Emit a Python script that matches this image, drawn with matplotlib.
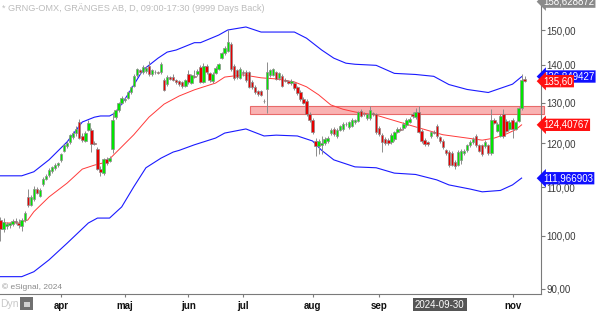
import numpy as np
import matplotlib.pyplot as plt
import matplotlib.transforms as mtransforms
from matplotlib.patches import Rectangle
from matplotlib.ticker import NullLocator

plt.rcParams['font.family'] = ['Liberation Sans', 'DejaVu Sans']

# daily candles, one entry per trading day (Mar 1 .. Nov 7 2024)
opens = [
    103.1, 101.2, 101.9, 102.0, 102.3, 103.0, 102.5, 101.8, 103.2, 108.0,
    106.2, 107.4, 109.6, 108.2, 110.6, 111.8, 112.6, 113.6, 114.2, 114.9,
    116.0, 118.2, 119.3, 120.3, 121.4, 122.4, 125.0, 121.6, 120.6, 123.2,
    123.2, 120.1, 118.7, 114.1, 113.2, 116.3, 115.9, 118.7, 126.3, 128.0,
    129.9, 130.6, 131.2, 132.6, 134.3, 137.2, 138.5, 138.0, 138.3, 139.8,
    137.5, 138.2, 138.0, 138.0, 136.0, 134.8, 136.6, 136.6, 135.9, 135.6,
    135.3, 134.4, 137.4, 135.2, 137.0, 137.4, 139.5, 135.5, 139.8, 137.7,
    135.6, 137.8, 139.0, 142.0, 143.3, 144.0, 145.8, 139.8, 138.5, 136.5,
    138.1, 138.0, 138.0, 135.5, 134.0, 132.9, 132.9, 130.5, 133.5, 137.2,
    137.3, 138.0, 136.4, 137.1, 135.9, 135.6, 135.0, 135.0, 134.0, 132.8,
    130.8, 130.4, 127.0, 125.6, 120.5, 119.2, 119.6, 120.0, 120.5, 122.4,
    123.4, 121.7, 123.2, 123.4, 124.6, 123.8, 124.2, 125.0, 125.4, 127.9,
    127.2, 126.0, 126.0, 127.3, 127.0, 123.6, 122.0, 121.0, 120.8, 120.3,
    121.0, 122.7, 123.4, 123.6, 124.3, 125.2, 127.2, 126.3, 127.7, 123.0,
    120.8, 120.2, 121.7, 122.7, 124.1, 121.4, 120.5, 118.3, 118.0, 117.7,
    115.6, 115.0, 116.0, 117.6, 118.3, 119.5, 120.3, 121.7, 119.5, 119.5,
    119.2, 119.5, 117.6, 125.7, 123.0, 121.8, 127.0, 125.4, 123.5, 125.6,
    123.5, 125.4, 128.5, 136.2,
]
highs = [
    103.8, 103.5, 102.6, 102.8, 103.4, 103.6, 103.3, 103.5, 105.0, 109.6,
    108.4, 110.3, 110.0, 109.8, 112.2, 112.9, 114.2, 114.7, 115.4, 115.7,
    117.7, 119.9, 120.6, 122.2, 122.8, 124.0, 125.8, 122.3, 122.8, 125.6,
    123.6, 120.5, 119.0, 114.6, 116.6, 116.8, 117.0, 127.6, 128.3, 130.2,
    131.6, 131.4, 133.0, 134.4, 137.4, 139.3, 139.0, 139.9, 139.6, 141.1,
    139.0, 138.7, 138.4, 140.7, 136.4, 137.2, 137.0, 137.6, 136.3, 136.0,
    135.7, 136.2, 138.6, 137.6, 138.6, 138.8, 140.0, 140.6, 140.3, 138.1,
    138.0, 139.6, 140.6, 143.7, 145.4, 150.0, 146.4, 140.3, 139.0, 139.4,
    138.6, 138.5, 138.4, 136.0, 134.5, 133.3, 133.3, 130.8, 140.8, 139.0,
    139.2, 138.4, 138.2, 137.6, 136.4, 136.0, 136.1, 135.4, 134.4, 133.2,
    131.3, 130.8, 127.5, 126.0, 121.3, 121.0, 121.6, 121.5, 121.6, 123.6,
    123.8, 123.6, 124.4, 125.0, 125.0, 125.4, 126.0, 125.9, 127.9, 128.3,
    127.6, 127.4, 129.0, 127.7, 127.4, 124.0, 122.4, 121.4, 121.2, 122.4,
    123.0, 123.8, 123.8, 125.0, 126.0, 126.3, 127.6, 128.6, 129.0, 123.4,
    121.2, 120.6, 123.0, 123.1, 124.5, 121.8, 120.9, 118.7, 118.4, 118.1,
    116.0, 118.4, 118.6, 118.6, 119.9, 120.7, 121.4, 122.1, 119.9, 119.9,
    120.7, 119.9, 128.3, 126.1, 125.0, 127.2, 128.3, 125.8, 125.6, 126.0,
    125.4, 128.9, 137.5, 137.0,
]
lows = [
    99.0, 100.6, 101.3, 101.4, 101.8, 102.2, 101.5, 100.8, 102.8, 105.8,
    105.9, 107.0, 108.5, 107.8, 110.3, 111.5, 112.3, 113.2, 113.9, 114.5,
    115.6, 117.9, 118.9, 119.9, 121.0, 121.8, 120.9, 120.3, 120.2, 122.8,
    117.8, 119.6, 113.9, 112.4, 112.7, 115.0, 115.5, 117.6, 125.9, 127.6,
    129.5, 130.2, 130.8, 132.2, 134.0, 136.8, 137.6, 137.6, 137.9, 137.1,
    137.1, 137.6, 137.4, 137.6, 133.0, 134.4, 136.0, 135.7, 134.9, 134.4,
    133.8, 134.0, 134.9, 134.8, 136.4, 137.0, 135.0, 135.1, 137.6, 135.4,
    135.2, 137.4, 138.6, 141.6, 142.9, 143.6, 138.4, 136.0, 136.3, 136.1,
    137.0, 135.5, 133.7, 133.5, 132.3, 131.8, 131.6, 130.0, 127.4, 136.8,
    136.9, 135.9, 136.0, 134.0, 135.3, 134.8, 134.6, 133.3, 132.0, 130.4,
    129.6, 126.6, 125.1, 122.2, 117.1, 117.5, 117.4, 119.6, 120.1, 122.0,
    121.8, 121.3, 122.8, 123.0, 124.0, 123.4, 123.8, 124.6, 125.0, 126.3,
    126.6, 125.6, 125.6, 126.7, 122.2, 121.7, 118.0, 119.6, 119.6, 119.9,
    120.6, 122.3, 122.8, 123.2, 123.9, 124.8, 126.1, 125.9, 122.3, 120.1,
    119.3, 119.4, 121.3, 122.1, 121.3, 120.1, 118.6, 117.3, 114.5, 114.6,
    114.1, 114.6, 115.2, 117.2, 117.9, 119.1, 119.9, 119.1, 117.8, 117.0,
    118.8, 117.2, 117.2, 124.5, 122.6, 121.4, 121.3, 122.6, 123.1, 121.2,
    123.1, 125.0, 128.1, 135.3,
]
closes = [
    101.2, 102.8, 102.3, 102.4, 103.0, 102.6, 102.0, 103.2, 104.6, 106.1,
    108.0, 109.6, 108.8, 109.4, 111.8, 112.5, 113.8, 114.4, 115.0, 115.4,
    117.4, 119.6, 120.1, 121.9, 122.4, 123.4, 121.3, 120.8, 122.4, 124.9,
    119.7, 119.9, 114.1, 113.4, 116.3, 115.3, 116.6, 125.6, 128.0, 129.9,
    131.2, 130.8, 132.6, 134.0, 137.0, 138.9, 138.1, 139.5, 139.2, 137.5,
    138.6, 138.0, 137.8, 140.2, 133.3, 136.8, 136.3, 136.0, 135.4, 134.8,
    134.2, 135.8, 135.3, 137.2, 136.8, 138.4, 135.5, 139.6, 138.0, 135.9,
    137.6, 139.2, 140.2, 143.3, 144.7, 146.4, 138.8, 136.5, 136.8, 139.0,
    137.9, 136.0, 134.1, 134.0, 132.8, 132.3, 132.0, 130.3, 138.0, 138.5,
    138.8, 136.3, 137.8, 134.4, 135.7, 135.2, 135.7, 133.7, 132.4, 130.8,
    130.0, 127.0, 125.5, 122.6, 119.2, 120.5, 120.0, 121.0, 121.2, 123.2,
    122.2, 123.2, 124.0, 124.6, 124.5, 125.0, 125.6, 125.5, 127.5, 126.7,
    127.0, 127.0, 128.2, 127.1, 122.6, 122.1, 120.3, 120.0, 120.0, 122.0,
    122.7, 123.4, 123.2, 124.6, 125.6, 125.9, 126.5, 127.5, 122.7, 120.5,
    119.7, 119.8, 122.7, 122.5, 121.7, 120.5, 119.0, 117.7, 115.0, 115.0,
    114.7, 118.0, 118.2, 118.2, 119.5, 120.3, 121.0, 119.5, 118.2, 117.4,
    120.3, 117.6, 125.7, 124.9, 124.6, 126.7, 121.7, 123.0, 125.2, 123.5,
    125.0, 128.5, 136.0, 135.6,
]

upper_idx = [0, 7, 11, 16, 22, 27, 31, 33, 36, 38, 42, 44, 47, 52, 55, 58, 64, 66, 72,
             75, 81, 86, 91, 97, 101, 106, 110, 114, 117, 124, 130, 137, 143, 148, 154,
             161, 165, 169, 172]
upper_val = [112.5, 112.5, 113.4, 116.1, 120.3, 125.1, 126.3, 126.6, 126.6, 127.4, 132.0,
             134.6, 138.6, 141.9, 143.6, 144.2, 146.3, 146.3, 148.5, 150.0, 150.9, 149.4,
             149.4, 149.4, 147.6, 144.2, 141.9, 140.5, 140.2, 139.9, 137.7, 137.4, 136.9,
             134.7, 133.4, 132.6, 133.7, 134.8, 136.8]
mid_idx = [0, 6, 9, 11, 16, 22, 27, 31, 35, 38, 44, 49, 54, 59, 64, 71, 74, 80, 86, 91,
           97, 101, 105, 109, 113, 117, 124, 137, 146, 154, 159, 163, 167, 170, 172]
mid_val = [102.5, 102.5, 103.1, 104.8, 107.9, 110.9, 114.0, 114.9, 115.6, 117.7, 122.0,
           126.3, 129.6, 131.7, 133.3, 135.1, 136.7, 137.3, 136.5, 136.2, 135.4, 134.1,
           132.0, 129.4, 128.3, 127.6, 126.8, 123.9, 122.0, 121.2, 120.7, 121.2, 122.2,
           123.2, 124.4]
lower_idx = [0, 7, 11, 16, 22, 29, 32, 36, 40, 44, 48, 53, 57, 59, 64, 71, 74, 81, 87, 91,
             98, 103, 106, 110, 117, 124, 130, 137, 144, 148, 155, 159, 165, 169, 172]
lower_val = [92.2, 92.2, 93.1, 95.3, 98.5, 102.5, 103.5, 103.5, 105.8, 110.1, 114.3, 116.5,
             117.9, 118.3, 119.6, 121.2, 122.4, 123.4, 121.7, 121.9, 121.7, 120.5, 118.3,
             116.1, 114.5, 114.3, 113.1, 112.8, 111.6, 110.5, 109.6, 109.0, 109.3, 110.5,
             112.0]

# resistance zone
zone_start = 82.3
zone_low, zone_high = 127.1, 129.0

month_pos = [20, 41, 62, 80, 103, 125, 169]
month_names = ['apr', 'maj', 'jun', 'jul', 'aug', 'sep', 'nov']
cursor_pos, cursor_text = 145, '2024-09-30'

yticks = [90, 100, 110, 120, 130, 140, 150]
tags = [(158.628872, '158,628872', '#8a8a8a'),
        (136.849427, '136,849427', '#1010ff'),
        (135.60, '135,60', '#ff1010'),
        (124.40767, '124,40767', '#ff1010'),
        (111.966903, '111,966903', '#1010ff')]

fig = plt.figure(figsize=(6, 3.11), dpi=100)
ax = fig.add_axes([0, 17 / 311, 541 / 600, 294 / 311])
ax.set_yscale('log')
ax.set_ylim(89.1, 159.15)
ax.set_xlim(-0.165, 178.4)

ax.add_patch(Rectangle((zone_start, zone_low), 178.4 - zone_start + 1, zone_high - zone_low,
                       fc='#f9b2b2', ec='#e86a6a', lw=0.8, zorder=1, clip_on=False))

ax.plot(upper_idx, upper_val, color='#1a1aff', lw=0.8, zorder=2)
ax.plot(lower_idx, lower_val, color='#1a1aff', lw=0.8, zorder=2)
ax.plot(mid_idx, mid_val, color='#ff3a3a', lw=0.7, zorder=2)

x = np.arange(len(closes))
o = np.array(opens)
c = np.array(closes)
cols = np.where(c >= o, '#00e600', '#e60000')
ax.vlines(x, lows, highs, color='#8c8c8c', lw=0.7, zorder=3)
ax.bar(x, np.abs(c - o), bottom=np.minimum(o, c), width=0.8, color=cols,
       edgecolor='#8c8c8c', lw=0.5, zorder=4)

for s in ['top', 'left']:
    ax.spines[s].set_visible(False)
for s in ['right', 'bottom']:
    ax.spines[s].set_color('#7a7a7a')

ax.yaxis.tick_right()
ax.yaxis.set_minor_locator(NullLocator())
ax.set_yticks(yticks)
ax.set_yticklabels([f'{v:.2f}'.replace('.', ',') for v in yticks])
ax.tick_params(axis='y', length=3, color='#7a7a7a', labelcolor='#3a3a3a', labelsize=7, pad=1)

ax.set_xticks(month_pos)
ax.set_xticklabels(month_names, fontweight='bold')
ax.tick_params(axis='x', length=2, color='#7a7a7a', labelcolor='#111111', labelsize=7, pad=3)

ax.text(cursor_pos, -0.037, cursor_text, transform=mtransforms.blended_transform_factory(
    ax.transData, ax.transAxes), ha='center', va='center', color='white', fontsize=7,
    bbox=dict(boxstyle='square,pad=0.2', fc='#555555', ec='none'), clip_on=False)

tr = mtransforms.blended_transform_factory(ax.transAxes, ax.transData)
for val, txt, col in tags:
    ax.text(1.004, val, txt, transform=tr, ha='left', va='center', color='white', fontsize=7,
            bbox=dict(boxstyle='larrow,pad=0.12', fc=col, ec='none'), clip_on=False, zorder=6)

fig.text(0.004, 0.974, '* GRNG-OMX, GRÄNGES AB, D, 09:00-17:30 (9999 Days Back)',
         color='#bcbcbc', fontsize=6.6, va='center')
fig.text(0.004, 0.077, '© eSignal, 2024', color='#8a8a8a', fontsize=6, va='center')
fig.text(0.0, 0.022, 'Dyn', color='#c8c8c8', fontsize=7.5, va='center')
fig.patches.append(Rectangle((20 / 600, 1 / 311), 13 / 600, 13 / 311, fc='#707070', ec='none',
                             transform=fig.transFigure, figure=fig))
fig.patches.append(Rectangle((24 / 600, 4 / 311), 6 / 600, 5 / 311, fc='#d0d0d0', ec='none',
                             transform=fig.transFigure, figure=fig))

fig.savefig('out.png', dpi=100)
